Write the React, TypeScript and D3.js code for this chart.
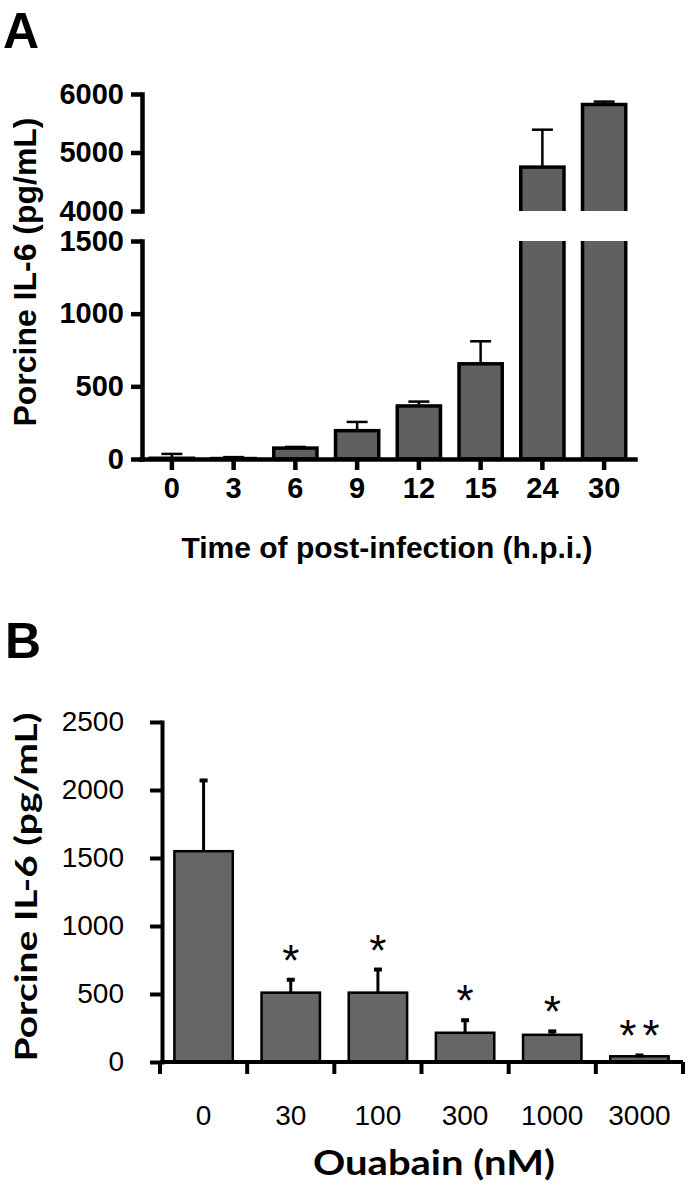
import React, { useEffect, useRef } from 'react'
import * as d3 from 'd3'

// panel A: IL-6 over time after infection
const timeLabels = ['0', '3', '6', '9', '12', '15', '24', '30']
const il6Mean = [5, 3, 75, 195, 365, 655, 4750, 5820]
const il6Err = [30, 10, 8, 60, 30, 155, 640, 50]
const yTicksHi = [4000, 5000, 6000]
const yTicksLo = [0, 500, 1000, 1500]

// panel B: IL-6 vs ouabain dose
const ouabainLabels = ['0', '30', '100', '300', '1000', '3000']
const ouabainMean = [1550, 510, 510, 215, 200, 42]
const ouabainErr = [520, 95, 170, 92, 25, 6]
const ouabainStars = ['', '*', '*', '*', '*', '**']
const yTicksB = [0, 500, 1000, 1500, 2000, 2500]

const W = 691
const H = 1196
const arial = "'Liberation Sans', Arial, sans-serif"
const calibri = "Lato, 'Open Sans', sans-serif"
const fmt = d3.format('d')

const styleAxis = (g, width, fontSize, weight) => {
  g.attr('font-family', arial).attr('font-size', fontSize).attr('font-weight', weight)
  g.select('.domain').attr('stroke-width', width).attr('stroke-linecap', 'square')
  g.selectAll('.tick line').attr('stroke-width', width)
  g.selectAll('.tick text').attr('fill', '#000')
}

const App = () => {
  const svgRef = useRef(null)

  useEffect(() => {
    const svg = d3.select(svgRef.current)
    svg.selectAll('*').remove()

    // ---------- panel A ----------
    const xA = d3
      .scaleBand()
      .domain(timeLabels)
      .range([141, 635])
      .paddingInner(0.3)
      .paddingOuter(0.15)
    const yHi = d3.scaleLinear().domain([4000, 6000]).range([211, 94])
    const yLo = d3.scaleLinear().domain([0, 1500]).range([459, 241])

    const defs = svg.append('defs')
    defs
      .append('clipPath')
      .attr('id', 'clipHi')
      .append('rect')
      .attr('x', 0)
      .attr('y', 40)
      .attr('width', W)
      .attr('height', yHi(4000) - 40)
    defs
      .append('clipPath')
      .attr('id', 'clipLo')
      .append('rect')
      .attr('x', 0)
      .attr('y', yLo(1500))
      .attr('height', yLo(0) - yLo(1500) + 20)
      .attr('width', W)

    const barsA = timeLabels.map((t, i) => ({ t, v: il6Mean[i], e: il6Err[i] }))

    svg
      .append('g')
      .attr('clip-path', 'url(#clipLo)')
      .selectAll('rect')
      .data(barsA)
      .join('rect')
      .attr('x', (d) => xA(d.t))
      .attr('width', xA.bandwidth())
      .attr('y', (d) => yLo(d.v))
      .attr('height', (d) => yLo(0) - yLo(d.v))
      .attr('fill', '#606060')
      .attr('stroke', '#000')
      .attr('stroke-width', 3.5)

    svg
      .append('g')
      .attr('clip-path', 'url(#clipHi)')
      .selectAll('rect')
      .data(barsA.filter((d) => d.v > 4000))
      .join('rect')
      .attr('x', (d) => xA(d.t))
      .attr('width', xA.bandwidth())
      .attr('y', (d) => yHi(d.v))
      .attr('height', (d) => yHi(0) - yHi(d.v))
      .attr('fill', '#606060')
      .attr('stroke', '#000')
      .attr('stroke-width', 3.5)

    const errA = svg.append('g').attr('stroke', '#000').attr('stroke-width', 2.5)
    barsA.forEach((d) => {
      const sc = d.v + d.e > 4000 ? yHi : yLo
      const cx = xA(d.t) + xA.bandwidth() / 2
      errA.append('line').attr('x1', cx).attr('x2', cx).attr('y1', sc(d.v)).attr('y2', sc(d.v + d.e))
      errA
        .append('line')
        .attr('x1', cx - 10.5)
        .attr('x2', cx + 10.5)
        .attr('y1', sc(d.v + d.e))
        .attr('y2', sc(d.v + d.e))
    })

    const axHi = svg
      .append('g')
      .attr('transform', 'translate(142,0)')
      .call(
        d3.axisLeft(yHi).tickValues(yTicksHi).tickFormat(fmt).tickSize(11).tickPadding(7).tickSizeOuter(0)
      )
    styleAxis(axHi, 4.5, 29, 'bold')
    const axLo = svg
      .append('g')
      .attr('transform', 'translate(142,0)')
      .call(
        d3.axisLeft(yLo).tickValues(yTicksLo).tickFormat(fmt).tickSize(11).tickPadding(7).tickSizeOuter(0)
      )
    styleAxis(axLo, 4.5, 29, 'bold')
    const axXA = svg
      .append('g')
      .attr('transform', `translate(0,${yLo(0)})`)
      .call(d3.axisBottom(xA).tickSize(11).tickPadding(7).tickSizeOuter(0))
    styleAxis(axXA, 4.5, 29, 'bold')

    svg
      .append('text')
      .attr('transform', 'translate(36,272) rotate(-90)')
      .attr('text-anchor', 'middle')
      .attr('font-family', arial)
      .attr('font-weight', 'bold')
      .attr('font-size', 31)
      .attr('textLength', 309)
      .attr('lengthAdjust', 'spacingAndGlyphs')
      .text('Porcine IL-6 (pg/mL)')

    svg
      .append('text')
      .attr('x', 387)
      .attr('y', 558)
      .attr('text-anchor', 'middle')
      .attr('font-family', arial)
      .attr('font-weight', 'bold')
      .attr('font-size', 30)
      .attr('textLength', 411)
      .attr('lengthAdjust', 'spacingAndGlyphs')
      .text('Time of post-infection (h.p.i.)')

    svg
      .append('text')
      .attr('x', 3)
      .attr('y', 48)
      .attr('font-family', arial)
      .attr('font-weight', 'bold')
      .attr('font-size', 50)
      .text('A')

    // ---------- panel B ----------
    const xB = d3
      .scaleBand()
      .domain(ouabainLabels)
      .range([160, 683])
      .paddingInner(0.33)
      .paddingOuter(0.165)
    const yB = d3.scaleLinear().domain([0, 2500]).range([1062, 722])

    const barsB = ouabainLabels.map((t, i) => ({
      t,
      v: ouabainMean[i],
      e: ouabainErr[i],
      s: ouabainStars[i],
    }))

    svg
      .append('g')
      .selectAll('rect')
      .data(barsB)
      .join('rect')
      .attr('x', (d) => xB(d.t))
      .attr('width', xB.bandwidth())
      .attr('y', (d) => yB(d.v))
      .attr('height', (d) => yB(0) - yB(d.v))
      .attr('fill', '#666666')
      .attr('stroke', '#000')
      .attr('stroke-width', 2.5)

    const errB = svg.append('g').attr('stroke', '#000')
    barsB.forEach((d) => {
      const cx = xB(d.t) + xB.bandwidth() / 2
      errB
        .append('line')
        .attr('x1', cx)
        .attr('x2', cx)
        .attr('y1', yB(d.v))
        .attr('y2', yB(d.v + d.e))
        .attr('stroke-width', 3)
      errB
        .append('line')
        .attr('x1', cx - 4)
        .attr('x2', cx + 4)
        .attr('y1', yB(d.v + d.e))
        .attr('y2', yB(d.v + d.e))
        .attr('stroke-width', 4)
    })

    svg
      .append('g')
      .attr('font-family', arial)
      .attr('font-size', 44)
      .attr('text-anchor', 'middle')
      .selectAll('text')
      .data(barsB.filter((d) => d.s))
      .join('text')
      .attr('x', (d) => xB(d.t) + xB.bandwidth() / 2)
      .attr('dx', (d) => (d.s.length > 1 ? 3 : 0))
      .attr('y', (d) => yB(d.v + d.e) - 4)
      .attr('letter-spacing', (d) => (d.s.length > 1 ? 6 : 0))
      .text((d) => d.s)

    const axYB = svg
      .append('g')
      .attr('transform', 'translate(162,0)')
      .call(
        d3.axisLeft(yB).tickValues(yTicksB).tickFormat(fmt).tickSize(12).tickPadding(26).tickSizeOuter(0)
      )
    styleAxis(axYB, 4, 28, 'normal')

    const [r0, r1] = xB.range()
    const xAxisB = svg.append('g').attr('stroke', '#000').attr('stroke-width', 4)
    xAxisB.append('line').attr('x1', r0).attr('x2', r1).attr('y1', yB(0)).attr('y2', yB(0))
    xAxisB
      .selectAll('.bt')
      .data(d3.range(ouabainLabels.length + 1))
      .join('line')
      .attr('x1', (i) => r0 + i * xB.step())
      .attr('x2', (i) => r0 + i * xB.step())
      .attr('y1', yB(0))
      .attr('y2', yB(0) + 12)

    svg
      .append('g')
      .attr('font-family', arial)
      .attr('font-size', 28)
      .attr('text-anchor', 'middle')
      .selectAll('text')
      .data(ouabainLabels)
      .join('text')
      .attr('x', (d) => xB(d) + xB.bandwidth() / 2)
      .attr('y', 1125)
      .text((d) => d)

    svg
      .append('text')
      .attr('transform', 'translate(37,887) rotate(-90)')
      .attr('text-anchor', 'middle')
      .attr('font-family', calibri)
      .attr('font-weight', 'bold')
      .attr('font-size', 30)
      .attr('textLength', 349)
      .attr('lengthAdjust', 'spacingAndGlyphs')
      .text('Porcine IL-6 (pg/mL)')

    svg
      .append('text')
      .attr('x', 434)
      .attr('y', 1175)
      .attr('text-anchor', 'middle')
      .attr('font-family', calibri)
      .attr('font-weight', 'bold')
      .attr('font-size', 34)
      .attr('textLength', 242)
      .attr('lengthAdjust', 'spacingAndGlyphs')
      .text('Ouabain (nM)')

    svg
      .append('text')
      .attr('x', 5)
      .attr('y', 658)
      .attr('font-family', arial)
      .attr('font-weight', 'bold')
      .attr('font-size', 50)
      .text('B')
  }, [])

  return (
    <svg
      ref={svgRef}
      width={W}
      height={H}
      style={{ position: 'absolute', left: 0, top: 0, background: '#fff' }}
    />
  )
}

export default App
